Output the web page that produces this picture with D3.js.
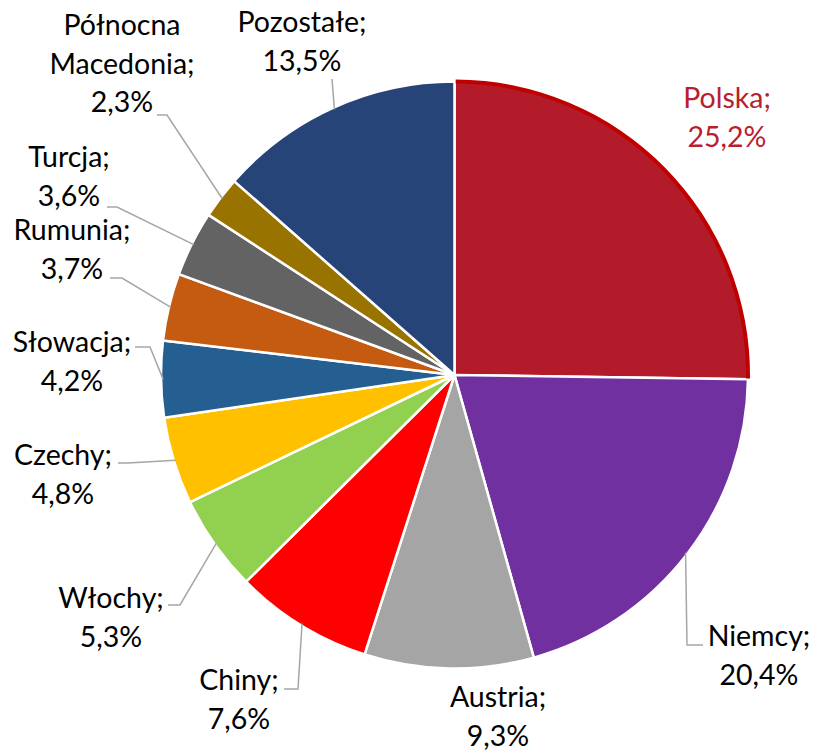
<!DOCTYPE html>
<html>
<head>
<meta charset="utf-8">
<script src="https://cdn.jsdelivr.net/npm/d3@7"></script>
<style>
  html, body { margin: 0; padding: 0; background: #fff; }
  svg { display: block; }
  text { font-family: Lato, "Open Sans", sans-serif; }
</style>
</head>
<body>
<svg id="chart" width="815" height="751"></svg>
<script>
// Share of each country (percent)
const countries = ["Polska", "Niemcy", "Austria", "Chiny", "Włochy", "Czechy",
                   "Słowacja", "Rumunia", "Turcja", "Północna Macedonia", "Pozostałe"];
const shares = [25.2, 20.4, 9.3, 7.6, 5.3, 4.8, 4.2, 3.7, 3.6, 2.3, 13.5];
const shareLabels = ["25,2%", "20,4%", "9,3%", "7,6%", "5,3%", "4,8%",
                     "4,2%", "3,7%", "3,6%", "2,3%", "13,5%"];
// Label text lines (name split where it wraps)
const nameLines = [["Polska;"], ["Niemcy;"], ["Austria;"], ["Chiny;"], ["Włochy;"],
                   ["Czechy;"], ["Słowacja;"], ["Rumunia;"], ["Turcja;"],
                   ["Północna", "Macedonia;"], ["Pozostałe;"]];

const colors = ["#B31B2B", "#7030A0", "#A5A5A5", "#FF0000", "#92D050", "#FFC000",
                "#255E91", "#C55A11", "#636363", "#997300", "#264478"];

// Label placement: text block centre x, first baseline y,
// and the leader line's start / elbow next to the text (null = no leader)
const labelX = [727, 759, 498, 239, 111, 63, 72, 72, 69, 122, 302];
const labelY = [108, 646, 707, 690, 608, 465, 352, 240, 167, 35, 32];
const leaderStart = [null, [703, 645], null, [284, 689], [168, 605], [118, 463],
                     [135, 347], [110, 278], [107, 207], [157, 115], [332, 79]];
const leaderElbow = [null, [687, 645], null, [298, 689], [180, 605], [128, 463],
                     [150, 347], [122, 278], [117, 207], [167, 115], [332, 79]];

const svg = d3.select("#chart");
const cx = 454.5, cy = 375, r = 293.5;
const lineH = 38.5;

const pie = d3.pie().sort(null).value(d => d);
const arcs = pie(shares);
const arc = d3.arc().innerRadius(0).outerRadius(r);

const g = svg.append("g").attr("transform", `translate(${cx},${cy})`);

g.selectAll("path.slice")
  .data(arcs)
  .join("path")
  .attr("class", "slice")
  .attr("d", arc)
  .attr("fill", (d, i) => colors[i])
  .attr("stroke", "#fff")
  .attr("stroke-width", 2.5)
  .attr("stroke-linejoin", "round");

// Highlight rim on the first slice
const rim = d3.arc().innerRadius(r - 2).outerRadius(r + 2);
g.append("path")
  .attr("d", rim({ startAngle: arcs[0].startAngle + 0.004, endAngle: arcs[0].endAngle - 0.002 }))
  .attr("fill", "#C00000");

// Leader lines: label -> elbow -> slice edge at mid angle
const line = d3.line();
arcs.forEach((d, i) => {
  if (!leaderStart[i]) return;
  const a = (d.startAngle + d.endAngle) / 2;
  const edge = [cx + (r - 2) * Math.sin(a), cy - (r - 2) * Math.cos(a)];
  svg.append("path")
    .attr("d", line([leaderStart[i], leaderElbow[i], edge]))
    .attr("fill", "none")
    .attr("stroke", "#A6A6A6")
    .attr("stroke-width", 1.5);
});

// Labels
arcs.forEach((d, i) => {
  const lines = nameLines[i].concat([shareLabels[i]]);
  const t = svg.append("text")
    .attr("text-anchor", "middle")
    .attr("font-size", 28.5)
    .attr("fill", i === 0 ? "#B8202E" : "#000");
  lines.forEach((s, k) => {
    t.append("tspan")
      .attr("x", labelX[i])
      .attr("y", labelY[i] + k * lineH)
      .text(s);
  });
});
</script>
</body>
</html>
